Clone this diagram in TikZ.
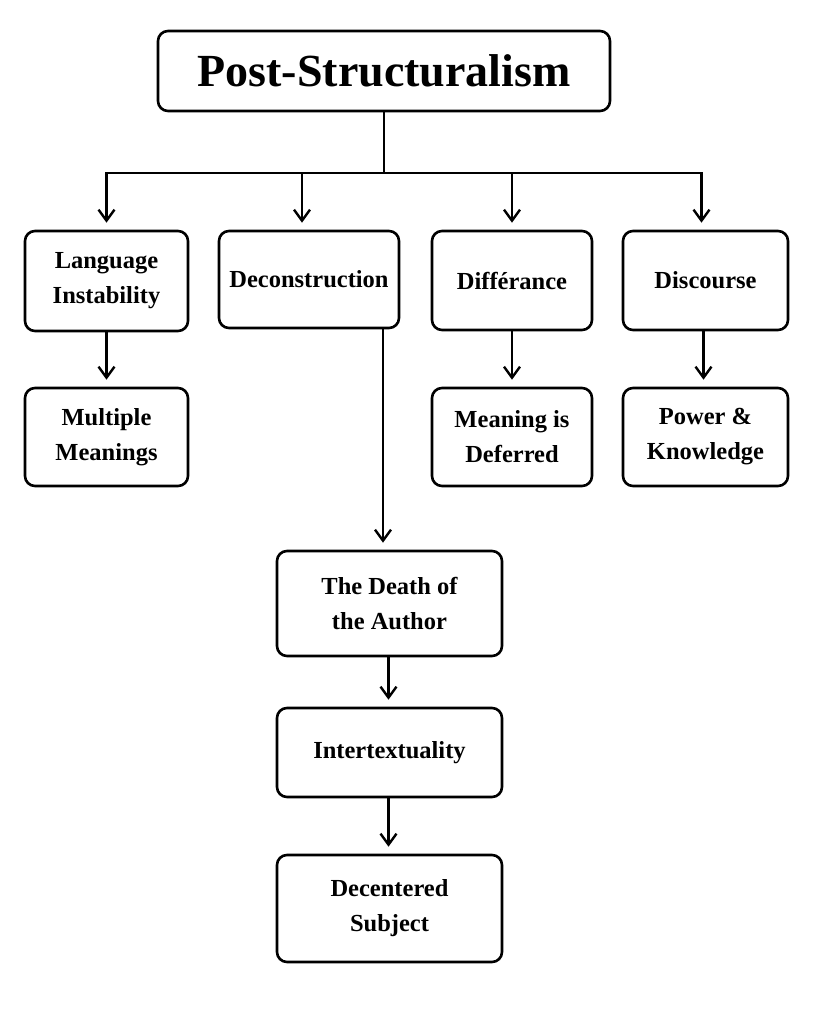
\documentclass[tikz,border=0pt]{standalone}
\usepackage{fontspec}
\setmainfont{Liberation Serif}
\usetikzlibrary{arrows.meta,positioning}

\begin{document}
\begin{tikzpicture}[x=1pt,y=-1pt,>={Straight Barb[length=11pt,width=16pt]},line width=2.4pt,
    concept/.style={draw,rounded corners=10pt,line width=2.6pt,align=center,inner sep=0pt,
      font=\fontsize{24.5}{35}\selectfont\bfseries},
    dims/.style 2 args={minimum width=#1,minimum height=#2}]
    \useasboundingbox[fill=white] (0,0) rectangle (819,1024);
    % top
    \node[concept,dims={452pt}{80pt},font=\fontsize{46}{50}\selectfont\bfseries] (PS) at (384,71) {Post-Structuralism};
    \coordinate[below=61pt of PS] (bus);
    % first row
    \node[concept,dims={163pt}{100pt}] (L_1) at (106.5,281) {Language\\Instability};
    \node[concept,dims={180pt}{97pt}] (D_1) at (309,279.5) {Deconstruction};
    \node[concept,dims={160pt}{99pt}] (F_1) at (512,280.5) {Différance};
    \node[concept,dims={165pt}{99pt}] (S_1) at (705.5,280.5) {Discourse};
    % second row
    \node[concept,dims={163pt}{98pt}] (L_2) at (106.5,437) {Multiple\\Meanings};
    \node[concept,dims={160pt}{98pt}] (F_2) at (512,437) {Meaning is\\Deferred};
    \node[concept,dims={165pt}{98pt}] (S_2) at (705.5,437) {Power \&\\Knowledge};
    % chain below deconstruction
    \node[concept,dims={225pt}{105pt}] (D_2) at (389.5,603.5) {The Death of\\the Author};
    \node[concept,dims={225pt}{89pt}] (D_3) at (389.5,752.5) {Intertextuality};
    \node[concept,dims={225pt}{107pt}] (D_4) at (389.5,908.5) {Decentered\\Subject};

    \draw (PS.south) -- (bus);
    \begin{scope}[->,shorten >=7pt]
        \draw (bus) -| (L_1.north);
        \draw (bus) -| ([xshift=-7pt]D_1.north);
        \draw (bus) -| (F_1.north);
        \draw (bus) -| ([xshift=-4pt]S_1.north);
        \draw (L_1) -- (L_2);
        \draw (F_1) -- (F_2);
        \draw ([xshift=-2pt]S_1.south) -- ([xshift=-2pt]S_2.north);
        \draw ([xshift=74pt]D_1.south) -- ([xshift=74pt]D_1.south |- D_2.north);
        \draw ([xshift=-1pt]D_2.south) -- ([xshift=-1pt]D_3.north);
        \draw ([xshift=-1pt]D_3.south) -- ([xshift=-1pt]D_4.north);
    \end{scope}
\end{tikzpicture}
\end{document}
